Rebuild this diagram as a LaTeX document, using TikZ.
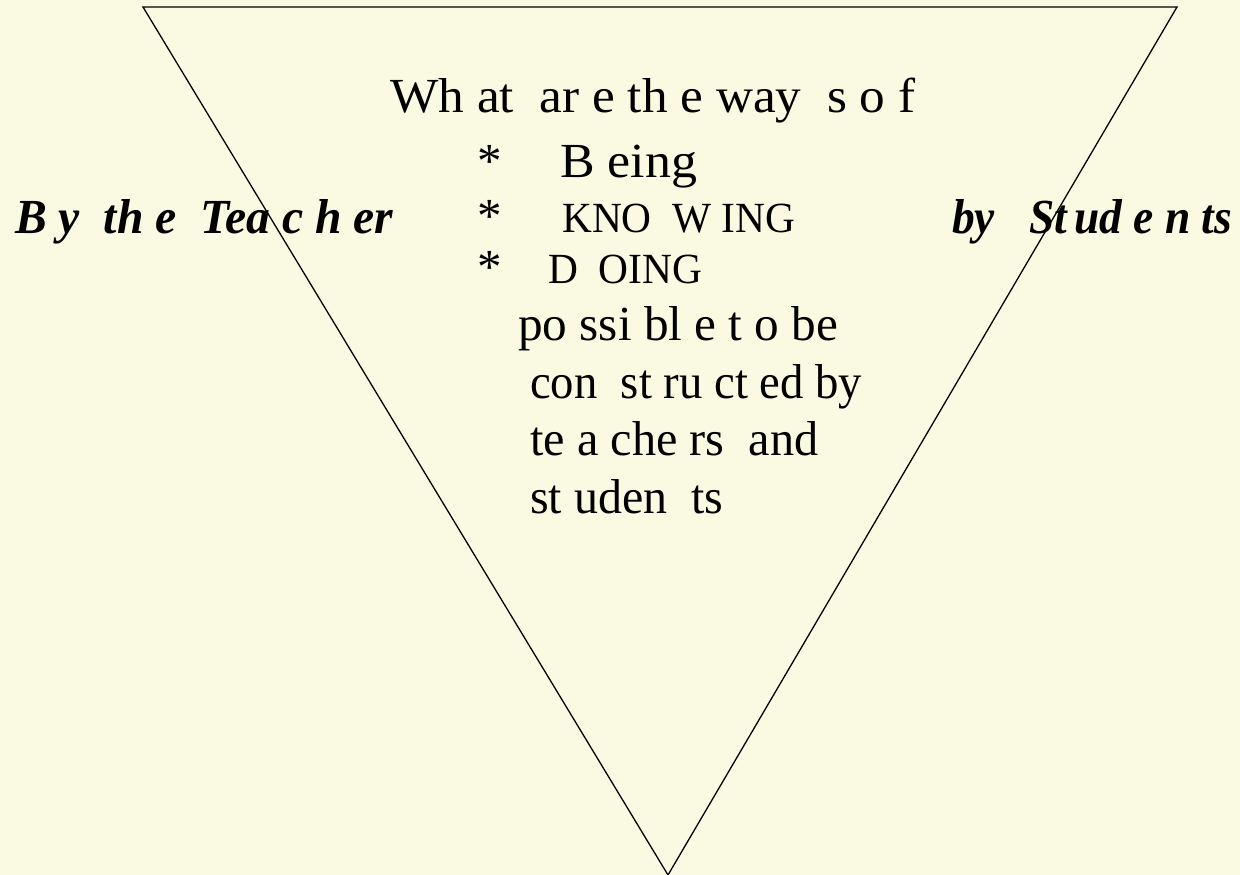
\documentclass[tikz,border=0pt]{standalone}
\usepackage{graphicx}
\usepackage{fontspec}
\setmainfont{Liberation Serif}
\definecolor{bgcol}{RGB}{250,250,226}
\newcommand\fitw[2]{\resizebox{#1pt}{\height}{#2}}
\begin{document}
\begin{tikzpicture}[x=1pt,y=-1pt,
  txt/.style={anchor=base west,inner sep=0pt,font=\fontsize{49}{56}\selectfont},
  small/.style={anchor=base west,inner sep=0pt,font=\fontsize{43}{50}\selectfont},
  side/.style={anchor=base west,inner sep=0pt,font=\fontsize{49}{56}\selectfont\bfseries\itshape}]
\fill[bgcol] (0,0) rectangle (1240,875);
\useasboundingbox (0,0) rectangle (1240,875);
\coordinate (tl) at (143,7);
\coordinate (tr) at (1177,7);
\coordinate (bot) at (668,875);
\draw[line width=1.3pt,line join=miter] (tl) -- (tr) -- (bot) -- cycle;
\node[txt] (q) at (390,113) {\fitw{525}{Wh at\ \ ar e th e way\ \ s o f}};
\node[txt] (s1) at (477,177) {*};
\node[txt] (being) at (560,177) {\fitw{137}{B eing}};
\node[txt] (s2) at (477,232) {*};
\node[small] (knowing) at (562,232) {\fitw{233}{KNO\ \ W ING}};
\node[txt] (s3) at (477,283) {*};
\node[small] (doing) at (548,283) {\fitw{154}{D\ \ OING}};
\node[txt] (l1) at (518,340) {\fitw{320}{po ssi bl e t o be}};
\node[txt] (l2) at (530,398) {\fitw{332}{con\ \ st ru ct ed by}};
\node[txt] (l3) at (530,455) {\fitw{288}{te a che\ rs\ \ and}};
\node[txt] (l4) at (530,513) {\fitw{193}{st uden\ \ ts}};
\node[side] (teacher) at (15,233) {\fitw{378}{B y\ \ th e\ \ Tea\ c h er}};
\node[side] (students) at (952,233) {\fitw{280}{by\ \ \ St\,ud\ e n ts}};
\end{tikzpicture}
\end{document}
